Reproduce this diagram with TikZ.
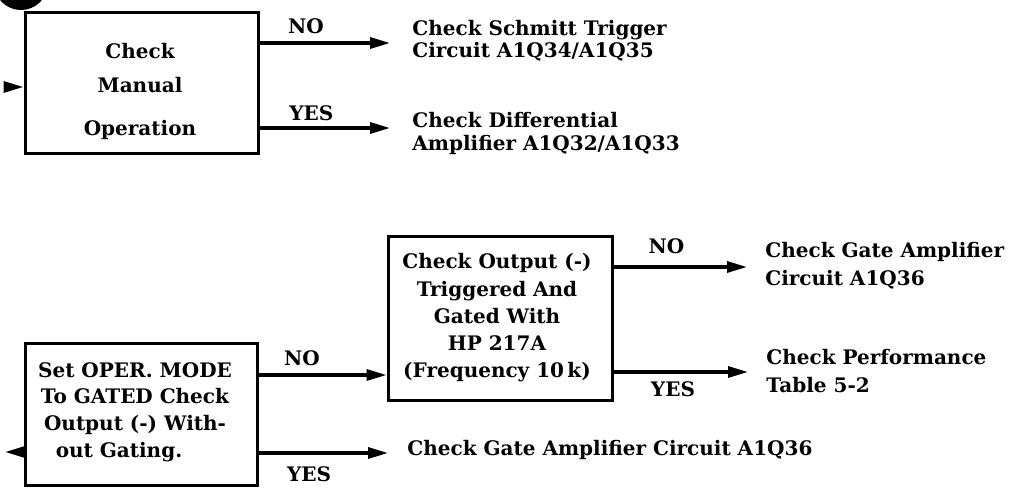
\documentclass[tikz,border=0pt]{standalone}
\usepackage{fontspec}
\setmainfont{DejaVu Serif}
\usetikzlibrary{arrows.meta}
\begin{document}
\begin{tikzpicture}[x=0.5pt,y=-0.5pt,
  stepbox/.style={draw, line width=1.5pt, inner sep=0pt},
  boxtext/.style={inner sep=0pt, align=center},
  dest/.style={anchor=west, inner sep=0pt, align=left},
  lab/.style={inner sep=0pt, font=\bfseries\fontsize{10}{12}\selectfont},
  flow/.style={line width=1.6pt, -{Triangle[length=10pt,width=5.5pt]}},
]
\path[use as bounding box, clip] (0,0) rectangle (1012,488);
% partial marker at the top left
\fill (21,-17) circle (27);

% boxes
\node[stepbox, minimum width=116.5pt, minimum height=70.5pt] (b1) at (141.5,82.5) {};
\node[boxtext, font=\bfseries\fontsize{10}{12}\selectfont] (b1t) at (140,91)
  {Check\\[5pt]Manual\\[9.5pt]Operation};
\node[stepbox, minimum width=116pt, minimum height=71pt] (b2) at (141,414) {};
\node[boxtext, font=\bfseries\fontsize{10}{13.3}\selectfont] (b2t) at (135,412)
  {Set OPER. MODE\\To GATED Check\\Output (-) With-\\out Gating.\hspace*{16pt}};
\node[stepbox, minimum width=112pt, minimum height=82pt] (b3) at (500,318) {};
\node[boxtext, font=\bfseries\fontsize{10}{13.6}\selectfont] (b3t) at (497,318)
  {Check Output (-)\\Triggered And\\Gated With\\HP 217A\\(Frequency 10\,k)};

% destinations
\node[dest, font=\bfseries\fontsize{10}{11}\selectfont] (t1) at (412,40.5)
  {Check Schmitt Trigger\\Circuit A1Q34/A1Q35};
\node[dest, font=\bfseries\fontsize{10}{11.5}\selectfont] (t2) at (412,133.5)
  {Check Differential\\Amplifier A1Q32/A1Q33};
\node[dest, font=\bfseries\fontsize{10}{14}\selectfont] (t3) at (765,266)
  {Check Gate Amplifier\\Circuit A1Q36};
\node[dest, font=\bfseries\fontsize{10}{14}\selectfont] (t4) at (766,371)
  {Check Performance\\Table 5-2};
\node[dest, font=\bfseries\fontsize{10}{12}\selectfont] (t5) at (407,450)
  {Check Gate Amplifier Circuit A1Q36};

% arrow levels
\coordinate (y1) at (0,43);
\coordinate (y2) at (0,128);
\coordinate (y3) at (0,375);
\coordinate (y4) at (0,453);
\coordinate (y5) at (0,267);
\coordinate (y6) at (0,372);
\coordinate (in1) at (5,87);
\coordinate (out2) at (5,452);

% connectors
\draw[flow, shorten >=11pt] (b1.east |- y1) -- node[lab, above=4pt, pos=0.305] (n1) {NO} (t1.west |- y1);
\draw[flow, shorten >=11pt] (b1.east |- y2) -- node[lab, above=3pt, pos=0.34] (n2) {YES} (t2.west |- y2);
\draw[flow] (b2.east |- y3) -- node[lab, above=4pt, pos=0.34] (n3) {NO} (b3.west |- y3);
\draw[flow, shorten >=9.5pt] (b2.east |- y4) -- node[lab, below=5.8pt, pos=0.34] (n4) {YES} (t5.west |- y4);
\draw[flow, shorten >=9pt] (b3.east |- y5) -- node[lab, above=5.8pt, pos=0.35] (n5) {NO} (t3.west |- y5);
\draw[flow, shorten >=9pt] (b3.east |- y6) -- node[lab, below=3.9pt, pos=0.39] (n6) {YES} (t4.west |- y6);
\draw[flow] (in1) -- (b1.west |- in1);
\draw[flow] (b2.west |- out2) -- (out2);
\end{tikzpicture}
\end{document}
